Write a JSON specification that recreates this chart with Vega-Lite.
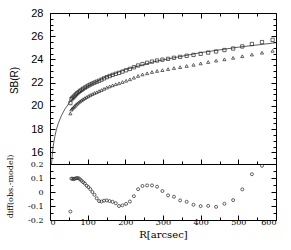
{
  "$schema": "https://vega.github.io/schema/vega-lite/v6.json",
  "background": "white",
  "padding": {"left": 5, "top": 6, "right": 15, "bottom": 5},
  "spacing": 0,
  "bounds": "flush",
  "config": {
    "view": {"stroke": "black", "strokeWidth": 1},
    "axis": {"domain": false, "grid": false, "tickColor": "black", "tickWidth": 1, "labelColor": "black", "titleColor": "black", "titleFontWeight": "normal"}
  },
  "datasets": {
    "model": [
      {"R": 3, "sb": 14.313}, {"R": 4, "sb": 14.917}, {"R": 5, "sb": 15.386}, {"R": 6, "sb": 15.769},
      {"R": 8, "sb": 16.373}, {"R": 10, "sb": 16.841}, {"R": 13, "sb": 17.392}, {"R": 17, "sb": 17.956},
      {"R": 22, "sb": 18.497}, {"R": 30, "sb": 19.148}, {"R": 40, "sb": 19.753}, {"R": 54, "sb": 20.383},
      {"R": 75, "sb": 21.073}, {"R": 100, "sb": 21.677}, {"R": 140, "sb": 22.383}, {"R": 200, "sb": 23.132},
      {"R": 280, "sb": 23.839}, {"R": 400, "sb": 24.588}, {"R": 500, "sb": 25.057}, {"R": 600, "sb": 25.44}
    ],
    "obs": [
      {"R": 54.11, "sb1": 20.247, "sb2": 19.35, "diff": -0.14},
      {"R": 56.81, "sb1": 20.584, "sb2": 19.68, "diff": 0.095},
      {"R": 59.65, "sb1": 20.687, "sb2": 19.79, "diff": 0.095},
      {"R": 62.64, "sb1": 20.786, "sb2": 19.89, "diff": 0.092},
      {"R": 65.77, "sb1": 20.892, "sb2": 19.99, "diff": 0.095},
      {"R": 69.06, "sb1": 20.997, "sb2": 20.10, "diff": 0.098},
      {"R": 72.51, "sb1": 21.102, "sb2": 20.20, "diff": 0.1},
      {"R": 76.14, "sb1": 21.202, "sb2": 20.30, "diff": 0.098},
      {"R": 79.94, "sb1": 21.297, "sb2": 20.40, "diff": 0.09},
      {"R": 83.94, "sb1": 21.389, "sb2": 20.49, "diff": 0.08},
      {"R": 88.14, "sb1": 21.482, "sb2": 20.58, "diff": 0.07},
      {"R": 92.55, "sb1": 21.574, "sb2": 20.67, "diff": 0.06},
      {"R": 97.17, "sb1": 21.662, "sb2": 20.76, "diff": 0.045},
      {"R": 102.03, "sb1": 21.754, "sb2": 20.85, "diff": 0.035},
      {"R": 107.14, "sb1": 21.842, "sb2": 20.94, "diff": 0.02},
      {"R": 112.49, "sb1": 21.924, "sb2": 21.02, "diff": 0.0},
      {"R": 118.12, "sb1": 22.007, "sb2": 21.11, "diff": -0.02},
      {"R": 124.02, "sb1": 22.084, "sb2": 21.18, "diff": -0.045},
      {"R": 130.22, "sb1": 22.166, "sb2": 21.27, "diff": -0.065},
      {"R": 136.73, "sb1": 22.266, "sb2": 21.37, "diff": -0.068},
      {"R": 143.57, "sb1": 22.374, "sb2": 21.47, "diff": -0.062},
      {"R": 150.75, "sb1": 22.479, "sb2": 21.58, "diff": -0.06},
      {"R": 158.29, "sb1": 22.576, "sb2": 21.68, "diff": -0.065},
      {"R": 166.2, "sb1": 22.674, "sb2": 21.77, "diff": -0.07},
      {"R": 174.51, "sb1": 22.766, "sb2": 21.87, "diff": -0.08},
      {"R": 183.24, "sb1": 22.849, "sb2": 21.95, "diff": -0.1},
      {"R": 192.4, "sb1": 22.956, "sb2": 22.06, "diff": -0.095},
      {"R": 202.02, "sb1": 23.069, "sb2": 22.17, "diff": -0.085},
      {"R": 212.13, "sb1": 23.188, "sb2": 22.29, "diff": -0.068},
      {"R": 222.73, "sb1": 23.328, "sb2": 22.43, "diff": -0.03},
      {"R": 233.87, "sb1": 23.481, "sb2": 22.58, "diff": 0.02},
      {"R": 245.56, "sb1": 23.606, "sb2": 22.71, "diff": 0.043},
      {"R": 257.84, "sb1": 23.713, "sb2": 22.81, "diff": 0.047},
      {"R": 270.73, "sb1": 23.815, "sb2": 22.92, "diff": 0.047},
      {"R": 284.27, "sb1": 23.909, "sb2": 23.01, "diff": 0.038},
      {"R": 298.48, "sb1": 23.98, "sb2": 23.08, "diff": 0.007},
      {"R": 313.41, "sb1": 24.052, "sb2": 23.17, "diff": -0.024},
      {"R": 329.08, "sb1": 24.144, "sb2": 23.26, "diff": -0.034},
      {"R": 345.53, "sb1": 24.221, "sb2": 23.34, "diff": -0.06},
      {"R": 362.81, "sb1": 24.313, "sb2": 23.44, "diff": -0.07},
      {"R": 380.95, "sb1": 24.395, "sb2": 23.54, "diff": -0.091},
      {"R": 400, "sb1": 24.487, "sb2": 23.66, "diff": -0.101},
      {"R": 420, "sb1": 24.592, "sb2": 23.78, "diff": -0.099},
      {"R": 441, "sb1": 24.687, "sb2": 23.9, "diff": -0.106},
      {"R": 463.05, "sb1": 24.812, "sb2": 24.01, "diff": -0.084},
      {"R": 486.2, "sb1": 24.94, "sb2": 24.14, "diff": -0.058},
      {"R": 510.5, "sb1": 25.12, "sb2": 24.28, "diff": 0.019},
      {"R": 536.0, "sb1": 25.33, "sb2": 24.42, "diff": 0.127},
      {"R": 562.8, "sb1": 25.493, "sb2": 24.58, "diff": 0.187},
      {"R": 591.0, "sb1": 25.688, "sb2": 24.74, "diff": 0.28}
    ]
  },
  "vconcat": [
    {
      "width": 226,
      "height": 151,
      "layer": [
        {
          "data": {"name": "model"},
          "mark": {"type": "line", "color": "#333333", "strokeWidth": 0.8, "clip": true},
          "encoding": {
            "x": {"field": "R", "type": "quantitative", "scale": {"domain": [0, 600], "nice": false},
              "axis": {"orient": "bottom", "title": null, "labels": false,
                "values": [0,50,100,150,200,250,300,350,400,450,500,550,600],
                "tickSize": {"condition": {"test": "datum.value % 100 == 0", "value": -5}, "value": -3}}},
            "y": {"field": "sb", "type": "quantitative", "scale": {"domain": [15, 28], "nice": false, "zero": false},
              "axis": {"orient": "left", "title": "SB(R)", "titleFont": "Liberation Sans", "titleFontSize": 10,
                "titleX": -31, "titleY": 67, "labelFont": "Liberation Sans", "labelFontSize": 11, "labelPadding": 12,
                "values": [15,15.5,16,16.5,17,17.5,18,18.5,19,19.5,20,20.5,21,21.5,22,22.5,23,23.5,24,24.5,25,25.5,26,26.5,27,27.5,28],
                "labelExpr": "datum.value % 2 == 0 ? format(datum.value, 'd') : ''",
                "tickSize": {"condition": {"test": "datum.value % 2 == 0", "value": -5}, "value": -3}}}
          }
        },
        {
          "data": {"name": "obs"},
          "mark": {"type": "point", "shape": "square", "filled": false, "size": 11, "strokeWidth": 0.7, "color": "#222222", "opacity": 1, "clip": true},
          "encoding": {
            "x": {"field": "R", "type": "quantitative", "scale": {"domain": [0, 600], "nice": false},
              "axis": {"orient": "top", "title": null, "labels": false,
                "values": [0,50,100,150,200,250,300,350,400,450,500,550,600],
                "tickSize": {"condition": {"test": "datum.value % 100 == 0", "value": -5}, "value": -3}}},
            "y": {"field": "sb1", "type": "quantitative", "scale": {"domain": [15, 28], "nice": false, "zero": false},
              "axis": {"orient": "right", "title": null, "labels": false,
                "values": [15,15.5,16,16.5,17,17.5,18,18.5,19,19.5,20,20.5,21,21.5,22,22.5,23,23.5,24,24.5,25,25.5,26,26.5,27,27.5,28],
                "tickSize": {"condition": {"test": "datum.value % 2 == 0", "value": -5}, "value": -3}}}
          }
        },
        {
          "data": {"name": "obs"},
          "mark": {"type": "point", "shape": "triangle-up", "filled": false, "size": 10, "strokeWidth": 0.7, "color": "#222222", "opacity": 1, "clip": true},
          "encoding": {
            "x": {"field": "R", "type": "quantitative", "scale": {"domain": [0, 600], "nice": false}, "axis": null},
            "y": {"field": "sb2", "type": "quantitative", "scale": {"domain": [15, 28], "nice": false, "zero": false}, "axis": null}
          }
        }
      ],
      "resolve": {"axis": {"x": "independent", "y": "independent"}}
    },
    {
      "width": 226,
      "height": 56,
      "data": {"name": "obs"},
      "layer": [
        {
          "mark": {"type": "point", "shape": "circle", "filled": false, "size": 9, "strokeWidth": 0.7, "color": "#222222", "opacity": 1, "clip": true},
          "encoding": {
            "x": {"field": "R", "type": "quantitative", "scale": {"domain": [0, 600], "nice": false},
              "axis": {"orient": "bottom", "title": "R[arcsec]", "titleFont": "DejaVu Serif", "titleFontSize": 10,
                "titleY": 9, "titleBaseline": "top", "labelFont": "DejaVu Serif", "labelFontSize": 8, "labelPadding": 3,
                "values": [0,50,100,150,200,250,300,350,400,450,500,550,600],
                "labelExpr": "datum.value % 100 == 0 ? datum.label : ''",
                "tickSize": {"condition": {"test": "datum.value % 100 == 0", "value": -5}, "value": -3}}},
            "y": {"field": "diff", "type": "quantitative", "scale": {"domain": [-0.2, 0.2], "nice": false, "zero": false},
              "axis": {"orient": "left", "title": "diff(obs.-model)", "titleFont": "DejaVu Serif", "titleFontSize": 8,
                "titleX": -36, "titleY": 22, "labelFont": "DejaVu Serif", "labelFontSize": 8, "labelPadding": 12,
                "values": [-0.2,-0.15,-0.1,-0.05,0,0.05,0.1,0.15,0.2],
                "labelExpr": "abs(datum.value*10 - round(datum.value*10)) < 0.001 ? (datum.value == 0 ? '0' : replace(format(datum.value, '.1f'), '\u2212', '-')) : ''",
                "tickSize": {"condition": {"test": "abs(datum.value*10 - round(datum.value*10)) < 0.001", "value": -5}, "value": -3}}}
          }
        },
        {
          "mark": {"type": "point", "opacity": 0, "clip": true},
          "encoding": {
            "x": {"field": "R", "type": "quantitative", "scale": {"domain": [0, 600], "nice": false}, "axis": null},
            "y": {"field": "diff", "type": "quantitative", "scale": {"domain": [-0.2, 0.2], "nice": false, "zero": false},
              "axis": {"orient": "right", "title": null, "labels": false,
                "values": [-0.2,-0.15,-0.1,-0.05,0,0.05,0.1,0.15,0.2],
                "tickSize": {"condition": {"test": "abs(datum.value*10 - round(datum.value*10)) < 0.001", "value": -5}, "value": -3}}}
          }
        }
      ],
      "resolve": {"axis": {"x": "independent", "y": "independent"}}
    }
  ]
}
